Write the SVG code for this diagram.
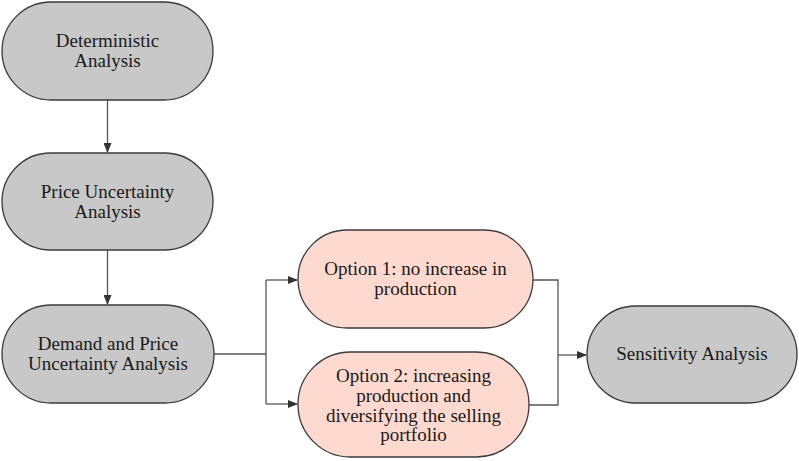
<svg xmlns="http://www.w3.org/2000/svg" width="799" height="461" viewBox="0 0 799 461">
<style>
.g{fill:#c8c8c8;stroke:#3a3a3a;stroke-width:1.3}
.p{fill:#fdd9cf;stroke:#3a3a3a;stroke-width:1.3}
text{font-family:"Liberation Serif","Times New Roman",serif;font-size:19px;fill:#1a1a1a;text-anchor:middle}
.c{fill:none;stroke:#555;stroke-width:1.3}
</style>
<defs>
<marker id="a" markerWidth="10" markerHeight="8" refX="9" refY="4" orient="auto" markerUnits="userSpaceOnUse">
<path d="M0,0 L10,4 L0,8 Z" fill="#333"/>
</marker>
</defs>
<rect width="799" height="461" fill="#fff"/>
<g id="connectors">
<path class="c" d="M107.5,100 V152" marker-end="url(#a)"/>
<path class="c" d="M107.5,250 V304" marker-end="url(#a)"/>
<path class="c" d="M214,354 H266"/>
<path class="c" d="M266,280 V404"/>
<path class="c" d="M266,280 H297" marker-end="url(#a)"/>
<path class="c" d="M266,404 H297" marker-end="url(#a)"/>
<path class="c" d="M533,280 H558 V405 H529"/>
<path class="c" d="M558,355 H586" marker-end="url(#a)"/>
</g>
<g id="n1">
<rect class="g" x="2" y="2" width="211" height="98" rx="49"/>
<text x="107.5" y="47">Deterministic</text>
<text x="107.5" y="67">Analysis</text>
</g>
<g id="n2">
<rect class="g" x="2" y="153" width="211" height="97" rx="48.5"/>
<text x="107.5" y="198">Price Uncertainty</text>
<text x="107.5" y="218">Analysis</text>
</g>
<g id="n3">
<rect class="g" x="2" y="305" width="212" height="98" rx="49"/>
<text x="108" y="350">Demand and Price</text>
<text x="108" y="370">Uncertainty Analysis</text>
</g>
<g id="o1">
<rect class="p" x="298" y="230" width="235" height="98" rx="49"/>
<text x="415.5" y="275">Option 1: no increase in</text>
<text x="415.5" y="295">production</text>
</g>
<g id="o2">
<rect class="p" x="298" y="352" width="231" height="105" rx="52.5"/>
<text x="413.5" y="382">Option 2: increasing</text>
<text x="413.5" y="402">production and</text>
<text x="413.5" y="422">diversifying the selling</text>
<text x="413.5" y="441">portfolio</text>
</g>
<g id="s">
<rect class="g" x="587" y="306" width="210" height="97" rx="48.5"/>
<text x="692" y="360">Sensitivity Analysis</text>
</g>
</svg>
